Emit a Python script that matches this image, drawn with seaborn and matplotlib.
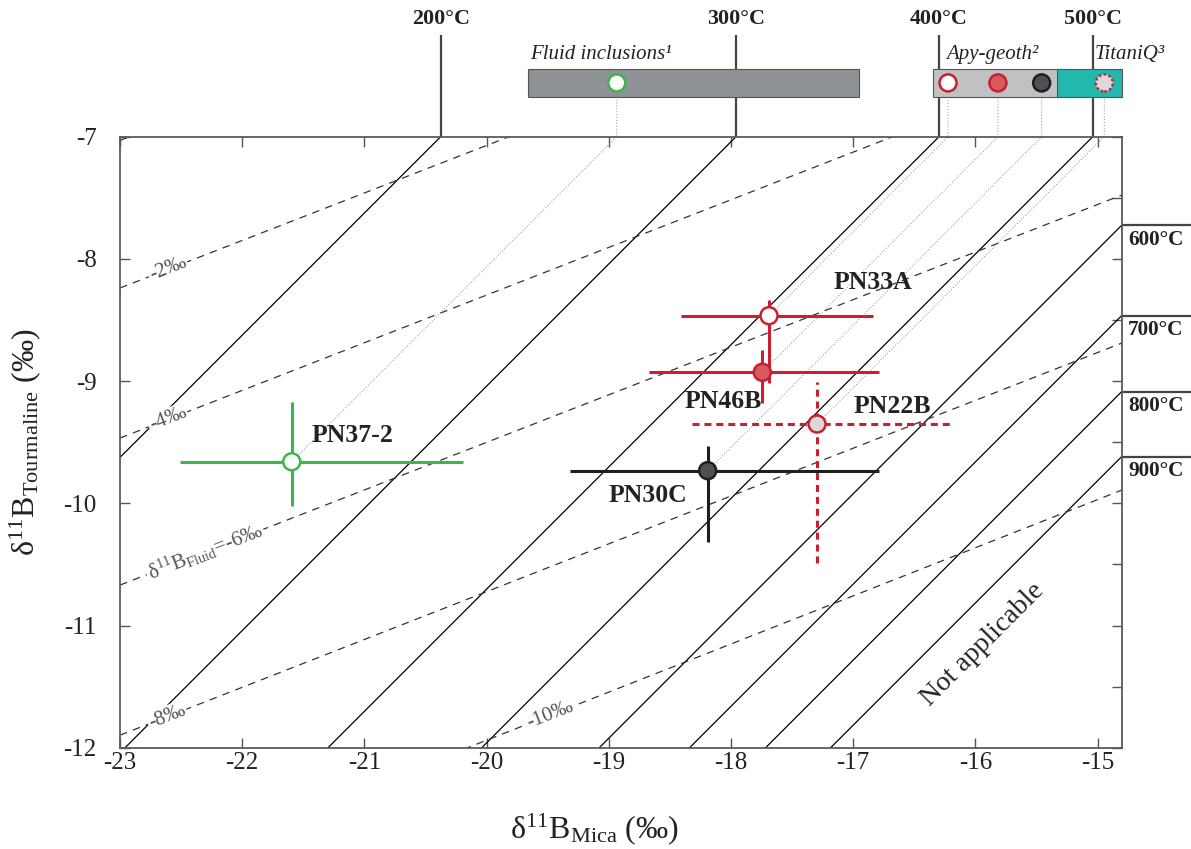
import numpy as np
import pandas as pd
import matplotlib
matplotlib.use("Agg")
import matplotlib.pyplot as plt
from matplotlib.ticker import MultipleLocator
import seaborn as sns

# --- Samples: boron isotope composition of mica and tourmaline (‰) ---
samples = ["PN37-2", "PN33A", "PN46B", "PN22B", "PN30C"]
mica = [-21.595, -17.689, -17.744, -17.296, -18.191]
tour = [-9.660, -8.465, -8.928, -9.351, -9.733]
mica_lo = [-22.509, -18.409, -18.671, -18.317, -19.318]
mica_hi = [-20.193, -16.835, -16.789, -16.208, -16.789]
tour_lo = [-10.020, -9.018, -9.182, -10.491, -10.314]
tour_hi = [-9.169, -8.336, -8.745, -9.005, -9.531]

# --- Isotherms: tourmaline-mica fractionation, Δ = δ11B_tour - δ11B_mica ---
temps = [200, 300, 400, 500, 600, 700, 800, 900]
delta_tour_mica = [13.376, 10.959, 9.298, 8.040, 7.078, 6.339, 5.717, 5.185]

# --- Fluid composition contours (tourmaline value at mica = -23 and -14.8) ---
fluid_values = [0, -2, -4, -6, -8, -10]
fluid_tour_left = [-7.03, -8.238, -9.466, -10.669, -11.897, -13.12]
fluid_tour_right = [-3.83, -5.05, -6.268, -7.477, -8.688, -9.891]
fluid_mica_ends = [-23.0, -14.8]

# --- Independent temperature estimates, expressed on the top (tourmaline = -7) scale ---
methods = ["Fluid inclusions¹", "Apy-geoth²", "TitaniQ³"]
method_lo = [-19.659, -16.345, -15.333]
method_hi = [-16.952, -15.294, -14.803]
sample_method = ["Fluid inclusions¹", "Apy-geoth²", "Apy-geoth²", "TitaniQ³", "Apy-geoth²"]

# ---------------------------------------------------------------------------
sns.set_theme(style="ticks")
plt.rcParams["font.family"] = ["Liberation Serif", "DejaVu Serif"]
plt.rcParams["mathtext.fontset"] = "custom"
plt.rcParams["mathtext.rm"] = "Liberation Serif"
plt.rcParams["mathtext.it"] = "Liberation Serif:italic"
plt.rcParams["mathtext.bf"] = "Liberation Serif:bold"
plt.rcParams["axes.unicode_minus"] = False

RED = "#c8202e"
GREEN = "#3cb54a"
DARK = "#1f1f1f"
face = {"PN37-2": "white", "PN33A": "white", "PN46B": "#d75a5e",
        "PN22B": "#d9d9d9", "PN30C": "#4f5052"}
edge = {"PN37-2": GREEN, "PN33A": RED, "PN46B": RED, "PN22B": RED, "PN30C": DARK}
method_color = {"Fluid inclusions¹": "#8e9294", "Apy-geoth²": "#c0c1c3",
                "TitaniQ³": "#22b8ad"}

fig = plt.figure(figsize=(11.91, 8.49), dpi=100)
ax = fig.add_axes([0.1008, 0.1193, 0.8410, 0.7197])

x_min, x_max = -23.0, -14.803
y_min, y_max = -12.0, -7.0
px = 1 / 122.2  # one pixel in data units

# isotherms
for T, d in zip(temps, delta_tour_mica):
    ax.axline((0, d), slope=1, color="black", lw=0.9, zorder=1)
    x_top = y_max - d
    if x_top <= x_max:
        ax.plot([x_top, x_top], [y_max, y_max + 101.7 * px], color="#444444",
                lw=1.6, clip_on=False, zorder=1, solid_capstyle="butt")
        ax.text(x_top, y_max + 117.7 * px, f"{T}°C", ha="center", va="center",
                fontsize=15.8, fontweight="bold", color="#222222")
    else:
        y_r = x_max + d
        ax.plot([x_max, x_max + 72 * px], [y_r, y_r], color="#444444",
                lw=1.6, clip_on=False, zorder=1, solid_capstyle="butt")
        ax.text(x_max + 6.3 * px, y_r - 14.5 * px, f"{T}°C", ha="left",
                va="center", fontsize=15.3, fontweight="bold", color="#222222")

# fluid composition contours
for fv, yl, yr in zip(fluid_values, fluid_tour_left, fluid_tour_right):
    ax.plot(fluid_mica_ends, [yl, yr], color="#333333", lw=0.9,
            ls=(0, (6, 5)), zorder=1)

fluid_label_x = {-2: -22.607, -4: -22.607, -6: -22.304, -8: -22.615, -10: -19.481}
angle = np.degrees(np.arctan(0.39))
for fv, yl, yr in zip(fluid_values, fluid_tour_left, fluid_tour_right):
    if fv not in fluid_label_x:
        continue
    lx = fluid_label_x[fv]
    ly = np.interp(lx, fluid_mica_ends, [yl, yr])
    txt = (f"δ$^{{11}}$B$_{{\\mathrm{{Fluid}}}}$=-{abs(fv)}‰" if fv == -6
           else f"-{abs(fv)}‰")
    ax.text(lx, ly, txt, rotation=angle, rotation_mode="anchor",
            ha="center", va="center", fontsize=15, color="#555555", zorder=3,
            bbox=dict(facecolor="white", edgecolor="none", pad=1.0))

# independent temperature bars above the plot
bar_y, bar_h = -6.56, 0.225
for name, lo, hi in zip(methods, method_lo, method_hi):
    ax.barh(bar_y, hi - lo, left=lo, height=bar_h, color=method_color[name],
            edgecolor="#555555", linewidth=0.8, clip_on=False, zorder=2)
method_text_x = {"Fluid inclusions¹": -19.645, "Apy-geoth²": -16.24,
                 "TitaniQ³": -15.027}
for name in methods:
    ax.text(method_text_x[name], y_max + 81.7 * px, name, ha="left",
            va="center", fontsize=15, fontstyle="italic", color="#222222")

# dotted isotherms through each sample up to its temperature estimate
df = pd.DataFrame({"sample": samples, "mica": mica, "tour": tour,
                   "method": sample_method})
df["mica_top"] = df["mica"] + (y_max - df["tour"])
for _, r in df.iterrows():
    ax.plot([r.mica, r.mica_top, r.mica_top], [r.tour, y_max, bar_y],
            color="#888888", lw=0.7, ls=(0, (1, 2)), clip_on=False, zorder=1.5)

# error bars
for i, s in enumerate(samples):
    col = edge[s]
    eb = ax.errorbar(mica[i], tour[i],
                     xerr=[[mica[i] - mica_lo[i]], [mica_hi[i] - mica[i]]],
                     yerr=[[tour[i] - tour_lo[i]], [tour_hi[i] - tour[i]]],
                     fmt="none", ecolor=col, elinewidth=2.2, capsize=0, zorder=4)
    if s == "PN22B":
        for lc in eb[2]:
            lc.set_linestyle((0, (2.3, 1.6)))

# sample markers
sns.scatterplot(data=df, x="mica", y="tour", hue="sample", palette=face,
                edgecolor=[edge[s] for s in samples], linewidth=1.8, s=150,
                legend=False, ax=ax, zorder=5)

# same markers inside the temperature bars
solid = df[df["sample"] != "PN22B"]
ax.scatter(solid["mica_top"], [bar_y] * len(solid),
           c=[face[s] for s in solid["sample"]],
           edgecolors=[edge[s] for s in solid["sample"]],
           s=150, linewidths=1.8, clip_on=False, zorder=5)
dotted = df[df["sample"] == "PN22B"]
ax.scatter(dotted["mica_top"], [bar_y] * len(dotted), c=face["PN22B"],
           edgecolors=RED, s=150, linewidths=1.8, linestyle=(0, (1, 1)),
           clip_on=False, zorder=5)

# sample labels
label_pos = {"PN37-2": (-21.101, -9.449), "PN33A": (-16.838, -8.197),
             "PN46B": (-18.065, -9.163), "PN22B": (-16.679, -9.208),
             "PN30C": (-18.679, -9.94)}
for s in samples:
    lx, ly = label_pos[s]
    ax.text(lx, ly, s, ha="center", va="center", fontsize=18.5,
            fontweight="bold", color="#222222", zorder=6)

ax.text(-15.938, -11.16, "Not applicable", rotation=45, ha="center",
        va="center", fontsize=20, color="#222222", zorder=3)

# axes
ax.set_xlim(x_min, x_max)
ax.set_ylim(y_min, y_max)
ax.set_xticks(np.arange(-23, -14, 1))
ax.set_yticks(np.arange(-12, -6, 1))
ax.yaxis.set_minor_locator(MultipleLocator(0.5))
ax.tick_params(axis="both", which="major", direction="in", length=7,
               width=1.0, color="#555555", top=True, right=True,
               labelsize=18, labelcolor="#222222")
ax.tick_params(axis="x", which="major", pad=3)
ax.tick_params(axis="y", which="major", pad=17)
ax.tick_params(axis="y", which="minor", direction="in", length=7, width=1.0,
               color="#555555", left=False, right=True)
for sp in ax.spines.values():
    sp.set_visible(True)
    sp.set_color("#5a5a5a")
    sp.set_linewidth(1.3)

ax.set_xlabel("δ$^{11}$B$_{\\mathrm{Mica}}$ (‰)", fontsize=23, color="#222222")
ax.set_ylabel("δ$^{11}$B$_{\\mathrm{Tourmaline}}$ (‰)", fontsize=23,
              color="#222222")
ax.xaxis.label.set_va("center")
ax.yaxis.label.set_va("center")
ax.xaxis.set_label_coords(0.474, -0.133)
ax.yaxis.set_label_coords(-0.095, 0.5)
ax.grid(False)

fig.savefig("out.png", dpi=100)
